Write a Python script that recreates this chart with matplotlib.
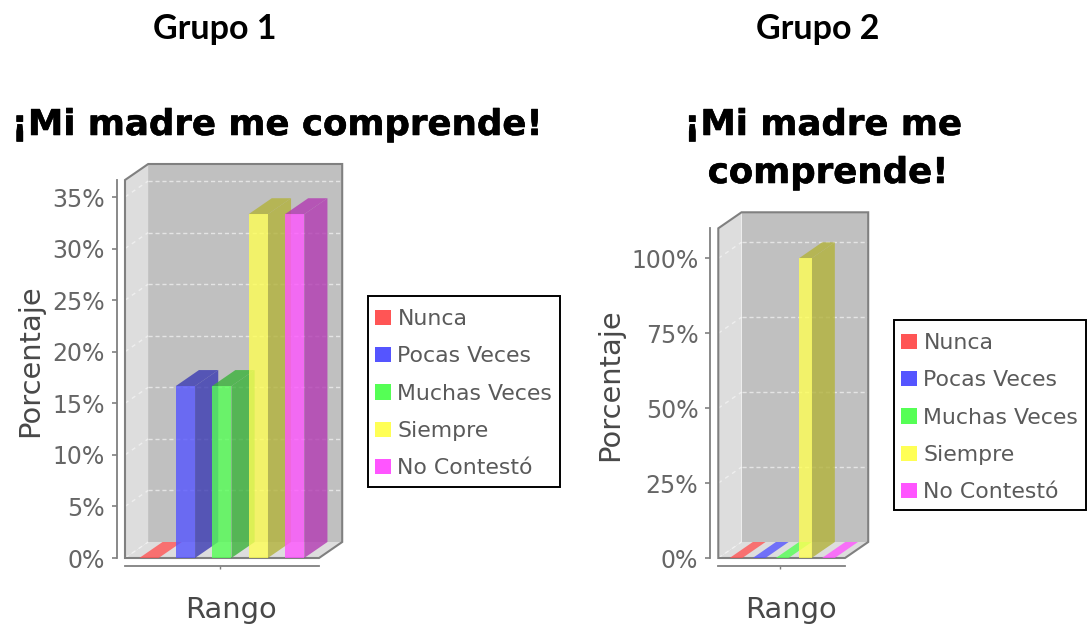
import matplotlib
matplotlib.use('Agg')
import matplotlib.pyplot as plt
import matplotlib.patheffects as pe
from matplotlib.patches import Patch, Polygon, Rectangle
from matplotlib.colors import to_rgb

W, H = 1087, 625

# datos
categorias = ['Nunca', 'Pocas Veces', 'Muchas Veces', 'Siempre', 'No Contestó']
grupo1 = [0, 16.67, 16.67, 33.33, 33.33]
grupo2 = [0, 0, 0, 100, 0]
ticks1 = [0, 5, 10, 15, 20, 25, 30, 35]
ticks2 = [0, 25, 50, 75, 100]
colores = ['#FF5555', '#5555FF', '#55FF55', '#FFFF55', '#FF55FF']

plt.rcParams['font.family'] = ['DejaVu Sans']
fig = plt.figure(figsize=(W / 100, H / 100), dpi=100)


def txt(px, py, s, **kw):
    # coloca texto usando pixeles de la imagen
    return fig.text(px / W, 1 - py / H, s, ha='center', va='center', **kw)


def oscuro(c, f=0.7):
    r, g, b = to_rgb(c)
    return (r * f, g * f, b * f)


def grafico(valores, ticks, x0, x1, y0, ytop, ppu, paso, ancho, cero, xtick, ylab, xlab):
    # x0..x1 / y0..ytop: plano frontal en pixeles; ppu: pixeles por 1%; paso, cero: barras
    ax = fig.add_axes([x0 / W, 1 - y0 / H, (x1 - x0) / W, (y0 - ytop) / H])
    ax.set_xlim((x0 - cero) / paso, (x1 - cero) / paso)
    ax.set_ylim(0, (y0 - ytop) / ppu)
    ax.patch.set_visible(False)
    dx = 23.2 / paso
    dy = 16 / ppu
    xa, xb = ax.get_xlim()
    ya, yb = ax.get_ylim()

    # paredes y suelo
    ax.add_patch(Polygon([(xa + dx, ya + dy), (xb + dx, ya + dy), (xb + dx, yb + dy), (xa + dx, yb + dy)],
                         fc='#C0C0C0', ec='none', clip_on=False, zorder=1))
    ax.add_patch(Polygon([(xa, ya), (xa + dx, ya + dy), (xa + dx, yb + dy), (xa, yb)],
                         fc='#DDDDDD', ec='none', clip_on=False, zorder=1))
    ax.add_patch(Polygon([(xa, ya), (xb, ya), (xb + dx, ya + dy), (xa + dx, ya + dy)],
                         fc='#DDDDDD', ec='none', clip_on=False, zorder=1))
    for t in ticks:
        ax.plot([xa, xa + dx], [t, t + dy], color='white', lw=1, ls=(0, (3, 3)), alpha=0.5,
                clip_on=False, zorder=2)
        if t > 0:
            ax.plot([xa + dx, xb + dx], [t + dy, t + dy], color='#E4E4E4', lw=1, ls=(0, (3, 2)),
                    clip_on=False, zorder=2)
    ax.add_patch(Polygon([(xa, ya), (xa, yb), (xa + dx, yb + dy), (xb + dx, yb + dy),
                          (xb + dx, ya + dy), (xb, ya)],
                         fc='none', ec='#808080', lw=1.5, clip_on=False, zorder=3))

    # barras 3D
    alfa = 0.8
    for i, v in enumerate(valores):
        c = colores[i]
        a, b = i - ancho / 2, i + ancho / 2
        z = 4 + i
        ax.add_patch(Polygon([(b, 0), (b + dx, dy), (b + dx, v + dy), (b, v)],
                             fc=oscuro(c), ec='none', alpha=alfa, clip_on=False, zorder=z))
        if v > 0:
            ax.add_patch(Polygon([(a, v), (b, v), (b + dx, v + dy), (a + dx, v + dy)],
                                 fc=oscuro(c), ec='none', alpha=alfa, clip_on=False, zorder=z))
            ax.bar(i, v, width=ancho, color=c, alpha=alfa, clip_on=False, zorder=z)
        else:
            ax.add_patch(Polygon([(a, 0), (b, 0), (b + dx, dy), (a + dx, dy)],
                                 fc=c, ec='none', alpha=alfa, clip_on=False, zorder=z))

    # ejes
    for s in ['top', 'right']:
        ax.spines[s].set_visible(False)
    for s in ['left', 'bottom']:
        ax.spines[s].set_position(('outward', 5.8))
        ax.spines[s].set_color('#808080')
        ax.spines[s].set_linewidth(1.3)
    ax.set_yticks(ticks)
    ax.set_yticklabels([f'{t}%' for t in ticks])
    ax.tick_params(axis='y', colors='#808080', labelcolor='#666666', labelsize=17, length=3.6, width=1.2, pad=5)
    ax.set_xticks([xtick])
    ax.set_xticklabels([''])
    ax.tick_params(axis='x', colors='#808080', length=2.5, width=1)
    txt(ylab[0], ylab[1], 'Porcentaje', rotation=90, fontsize=20.8, color='#484848')
    txt(xlab[0], xlab[1], 'Rango', fontsize=20.8, color='#484848')
    return ax


def leyenda(ax, left, top, ancho, alto):
    fig.add_artist(Rectangle((left / W, 1 - (top + alto) / H), ancho / W, alto / H, fc='white',
                             ec='black', lw=1.4, transform=fig.transFigure, zorder=-1))
    h = [Patch(fc=c, ec='none') for c in colores]
    leg = ax.legend(h, categorias, loc='upper left', bbox_to_anchor=((left + 7) / W, 1 - (top + 13) / H),
                    bbox_transform=fig.transFigure, fontsize=15.8, frameon=False, borderaxespad=0, borderpad=0,
                    handlelength=0.72, handleheight=0.72, handletextpad=0.3, labelspacing=0.79)
    for t in leg.get_texts():
        t.set_color('#5A5A5A')
    leg.set_zorder(20)


ax1 = grafico(grupo1, ticks1, 125, 319, 558, 180, 361 / 35, 36.4, 0.53, 149, 1.95, (30, 361), (231, 610))
ax2 = grafico(grupo2, ticks2, 718.3, 845, 558, 228.3, 2.997, 23.1, 0.55, 736, 1.92, (610, 385), (791, 610))
leyenda(ax1, 368, 296, 192, 191)
leyenda(ax2, 894, 320, 192, 190)

grueso = [pe.withStroke(linewidth=0.4, foreground='black')]
txt(215, 29, 'Grupo 1', fontsize=24.5, fontweight='bold', family='Lato', color='black')
txt(818, 29, 'Grupo 2', fontsize=24.5, fontweight='bold', family='Lato', color='black')
txt(277, 125, '¡Mi madre me comprende!', fontsize=25.6, fontweight='bold', color='black', path_effects=grueso)
txt(823, 125, '¡Mi madre me', fontsize=25.6, fontweight='bold', color='black', path_effects=grueso)
txt(828, 173, 'comprende!', fontsize=25.6, fontweight='bold', color='black', path_effects=grueso)

fig.savefig('out.png', dpi=100)
